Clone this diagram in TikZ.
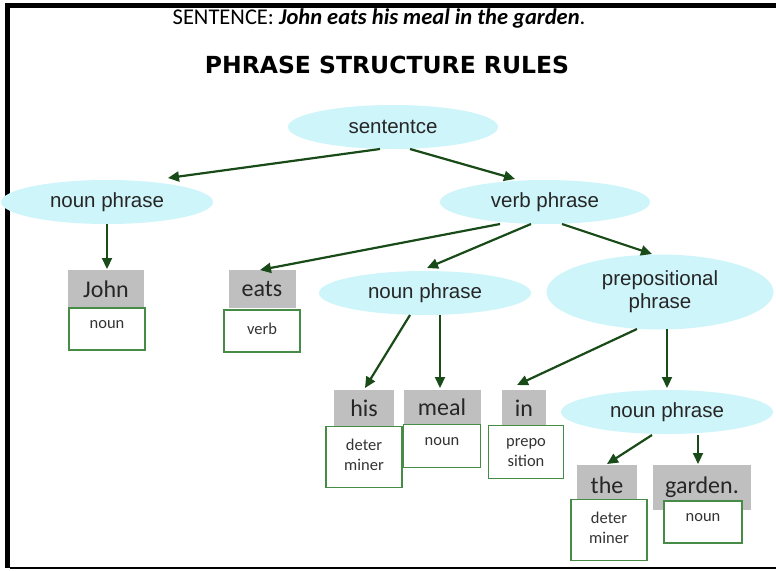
\documentclass[tikz,border=0pt]{standalone}
\usepackage{fontspec}
\setmainfont{Carlito}
\newfontfamily\arialf{Liberation Sans}
\newfontfamily\dejaf{DejaVu Sans}
\usetikzlibrary{shapes.geometric,arrows.meta,calc}
\definecolor{ellfill}{RGB}{206,245,250}
\definecolor{greyfill}{RGB}{191,191,191}
\definecolor{boxgreen}{RGB}{70,140,70}
\definecolor{arrowgreen}{RGB}{25,75,25}
\tikzset{
  phrase/.style={ellipse, fill=ellfill, inner sep=0pt, minimum width=212pt, minimum height=44pt,
    font=\arialf\fontsize{20.5}{23}\selectfont, align=center, text=black!85},
  wordbox/.style={rectangle, fill=greyfill, inner sep=0pt, font=\fontsize{24}{26}\selectfont, text=black!85},
  catbox/.style={rectangle, draw=boxgreen, line width=1.1pt, fill=white, inner sep=0pt},
  cattext/.style={anchor=north, inner sep=0pt, yshift=-13pt, font=\fontsize{16.5}{20}\selectfont, align=center, text=black!80},
  conn/.style={draw=arrowgreen, line width=2.2pt, -{Triangle[length=11pt,width=10pt]}},
  framebar/.style={fill=black}
}
\begin{document}
\begin{tikzpicture}[x=1pt,y=-1pt]
\useasboundingbox (0,0) rectangle (776,570);
\fill[white] (0,0) rectangle (776,570);
% frame
\fill[framebar] (5,3) rectangle (10,568);
\fill[framebar] (5,3) rectangle (776,8);
\draw[line width=1.5pt] (10,568) -- (776,568);
% titles
\node[font=\fontsize{22.5}{26}\selectfont] (title) at (379,19) {SENTENCE: \textbf{\textit{John eats his meal in the garden}}.};
\node[font=\dejaf\bfseries\fontsize{23.5}{28}\selectfont] (rules) at (387,65) {PHRASE STRUCTURE RULES};
% phrase ellipses
\node[phrase, minimum width=210pt] (sent) at (393,127) {sententce};
\node[phrase] (npL) at (107,202) {noun phrase};
\node[phrase, minimum width=210pt] (vp) at (545,202) {verb phrase};
\node[phrase] (npM) at (425,293) {noun phrase};
\node[phrase, minimum width=227pt, minimum height=75pt] (pp) at (660,292) {prepositional\\phrase};
\node[phrase] (npR) at (667,412) {noun phrase};
% word boxes
\node[wordbox, minimum width=76pt, minimum height=38pt] (john) at (106,289) {John};
\node[wordbox, minimum width=67pt, minimum height=38pt] (eats) at (262,289) {eats};
\node[wordbox, minimum width=60pt, minimum height=37pt] (his) at (364,408) {his};
\node[wordbox, minimum width=77pt, minimum height=35pt] (meal) at (442,407) {meal};
\node[wordbox, minimum width=44pt, minimum height=36pt] (in) at (524,408) {in};
\node[wordbox, minimum width=60pt, minimum height=35pt, text height=26pt, text depth=4pt] (the) at (607,482) {the};
\node[wordbox, minimum width=98pt, minimum height=45pt, text height=25pt, text depth=13pt] (garden) at (702,487) {garden.};
% category boxes
\node[catbox, minimum width=76pt, minimum height=42pt] (johnW) at (107,329) {};
\node[cattext] (johnT) at (johnW.north) {noun};
\node[catbox, minimum width=76pt, minimum height=42pt] (eatsW) at (262,331) {};
\node[cattext] (eatsT) at (eatsW.north) {verb};
\node[catbox, minimum width=76pt, minimum height=61pt] (hisW) at (364,457) {};
\node[cattext] (hisT) at (hisW.north) {deter\\miner};
\node[catbox, minimum width=77pt, minimum height=43pt] (mealW) at (442,446) {};
\node[cattext] (mealT) at (mealW.north) {noun};
\node[catbox, minimum width=75pt, minimum height=53pt] (inW) at (526,452) {};
\node[cattext] (inT) at (inW.north) {prepo\\sition};
\node[catbox, minimum width=76pt, minimum height=61pt] (theW) at (609,530) {};
\node[cattext] (theT) at (theW.north) {deter\\miner};
\node[catbox, minimum width=78pt, minimum height=42pt] (gardenW) at (703,522) {};
\node[cattext] (gardenT) at (gardenW.north) {noun};
% connectors
\draw[conn] ($(sent.center)+(-13,22)$) -- ($(npL.center)+(61,-24)$);
\draw[conn] ($(sent.center)+(17,22)$) -- ($(vp.center)+(-30,-23)$);
\draw[conn] ($(npL.center)+(0,22)$) -- ($(john.center)+(1,-20)$);
\draw[conn] ($(vp.center)+(-45,22)$) -- ($(eats.center)+(-2,-19)$);
\draw[conn] ($(vp.center)+(-14,22)$) -- ($(npM.center)+(2,-25)$);
\draw[conn] ($(vp.center)+(17,22)$) -- ($(pp.center)+(-8,-38)$);
\draw[conn] ($(npM.center)+(-15,22)$) -- ($(his.center)+(1,-20)$);
\draw[conn] ($(npM.center)+(15,22)$) -- ($(meal.center)+(-2,-19)$);
\draw[conn] ($(pp.center)+(-23,37)$) -- ($(in.center)+(-7,-23)$);
\draw[conn] ($(pp.center)+(7,37)$) -- ($(npR.center)+(0,-24)$);
\draw[conn] ($(npR.center)+(-15,23)$) -- ($(the.center)+(0,-18)$);
\draw[conn] ($(npR.center)+(31,23)$) -- ($(garden.center)+(-4,-23)$);
\end{tikzpicture}
\end{document}
